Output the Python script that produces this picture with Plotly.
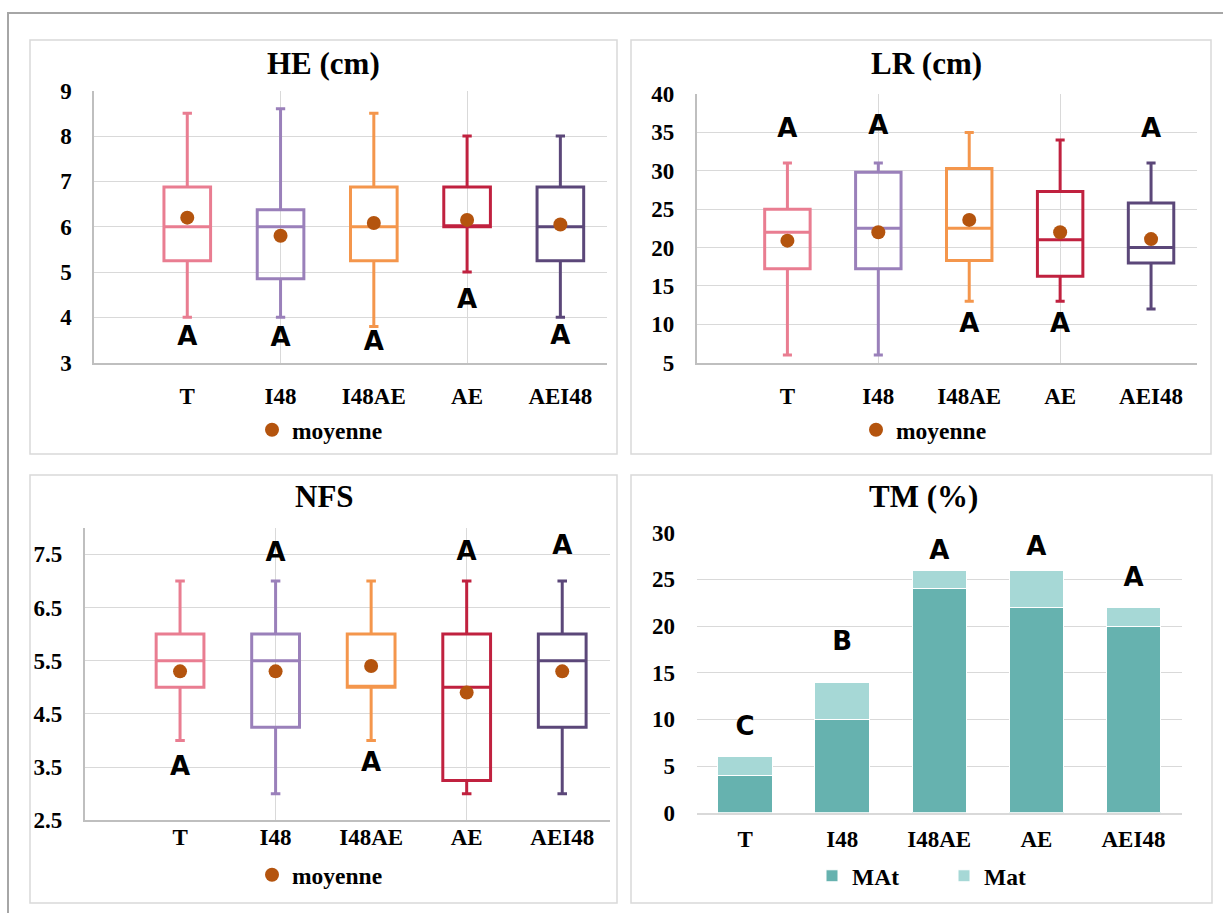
import plotly.graph_objects as go

# ---------------- data ----------------
categories = ["T", "I48", "I48AE", "AE", "AEI48"]
box_colors = ["#E97D91", "#9A80BA", "#F4964C", "#C0213F", "#5B4779"]
mean_color = "#B4540E"

he_min = [4.0, 4.0, 3.8, 5.0, 4.0]
he_q1 = [5.25, 4.85, 5.25, 6.0, 5.25]
he_med = [6.0, 6.0, 6.0, 6.0, 6.0]
he_q3 = [6.875, 6.375, 6.875, 6.875, 6.875]
he_max = [8.5, 8.6, 8.5, 8.0, 8.0]
he_mean = [6.2, 5.8, 6.08, 6.15, 6.05]
he_letters = ["A", "A", "A", "A", "A"]
he_letter_y = [3.54, 3.51, 3.43, 4.36, 3.56]

lr_min = [6, 6, 13, 13, 12]
lr_q1 = [17.25, 17.25, 18.3, 16.25, 18.0]
lr_med = [22.0, 22.5, 22.5, 21.0, 20.0]
lr_q3 = [25.0, 29.8, 30.3, 27.3, 25.8]
lr_max = [31, 31, 35, 34, 31]
lr_mean = [20.9, 22.0, 23.6, 22.0, 21.1]
lr_letters = ["A", "A", "A", "A", "A"]
lr_letter_y = [35.2, 35.7, 9.9, 9.9, 35.3]

nfs_min = [4, 3, 4, 3, 3]
nfs_q1 = [5.0, 4.25, 5.0, 3.25, 4.25]
nfs_med = [5.5, 5.5, 5.0, 5.0, 5.5]
nfs_q3 = [6.0, 6.0, 6.0, 6.0, 6.0]
nfs_max = [7, 7, 7, 7, 7]
nfs_mean = [5.3, 5.3, 5.4, 4.9, 5.3]
nfs_letters = ["A", "A", "A", "A", "A"]
nfs_letter_y = [3.475, 7.49, 3.54, 7.52, 7.63]

tm_MAt = [4, 10, 24, 22, 20]
tm_Mat = [2, 4, 2, 4, 2]
tm_letters = ["C", "B", "A", "A", "A"]
tm_letter_y = [9.0, 18.1, 27.9, 28.3, 25.0]

titles = ["HE (cm)", "LR (cm)", "NFS", "TM (%)"]

# ---------------- layout helpers ----------------
W, H = 1223, 913
def px(x):
    return x / W
def py(y):
    return 1 - y / H

SERIF = "Liberation Serif"
SANS = "DejaVu Sans"
GRID = "#d9d9d9"
AXL = "#bfbfbf"
tickfont = dict(family=SERIF, size=23, color="black", weight="bold")
letterfont = dict(family=SANS, size=26, color="black", weight="bold")

xpos = list(range(1, len(categories) + 1))

fig = go.Figure()

panels = [
    ("x", "y", "x5", "legend", he_min, he_q1, he_med, he_q3, he_max, he_mean, he_letters, he_letter_y),
    ("x2", "y2", "x6", "legend2", lr_min, lr_q1, lr_med, lr_q3, lr_max, lr_mean, lr_letters, lr_letter_y),
    ("x3", "y3", "x7", "legend3", nfs_min, nfs_q1, nfs_med, nfs_q3, nfs_max, nfs_mean, nfs_letters, nfs_letter_y),
]

for (xa, ya, xo, lg, mn, q1, med, q3, mx, mean, letters, ly) in panels:
    for i in range(len(categories)):
        fig.add_trace(go.Box(
            x=[xpos[i]], q1=[q1[i]], median=[med[i]], q3=[q3[i]],
            lowerfence=[mn[i]], upperfence=[mx[i]],
            width=0.5, whiskerwidth=0.2,
            line=dict(color=box_colors[i], width=3),
            fillcolor="rgba(0,0,0,0)",
            xaxis=xa, yaxis=ya, showlegend=False, hoverinfo="skip",
        ))
    fig.add_trace(go.Scatter(
        x=xpos, y=ly, text=letters, mode="text", textfont=letterfont,
        xaxis=xa, yaxis=ya, showlegend=False, hoverinfo="skip",
    ))
    fig.add_trace(go.Scatter(
        x=xpos, y=mean, mode="markers", name="moyenne",
        marker=dict(color=mean_color, size=14, line=dict(width=0)),
        xaxis=xo, yaxis=ya, legend=lg,
    ))

# stacked bars
fig.add_trace(go.Bar(x=categories, y=tm_MAt, name="MAt", marker=dict(color="#66B2AF", line=dict(color="white", width=1)),
                     xaxis="x4", yaxis="y4", legend="legend4"))
fig.add_trace(go.Bar(x=categories, y=tm_Mat, name="Mat", marker=dict(color="#A6D8D6", line=dict(color="white", width=1)),
                     xaxis="x4", yaxis="y4", legend="legend4"))
fig.add_trace(go.Scatter(x=categories, y=tm_letter_y, text=tm_letters, mode="text", textfont=letterfont,
                         xaxis="x4", yaxis="y4", showlegend=False, hoverinfo="skip"))

# ---------------- axes ----------------
def main_x(dom):
    return dict(domain=[px(dom[0]), px(dom[1])], range=[0, 5.5], tickmode="array", tickvals=[2, 4],
                showticklabels=False, ticks="", showgrid=True, gridcolor=GRID, gridwidth=1.3,
                showline=True, linecolor=AXL, linewidth=1.5, zeroline=False, fixedrange=True)

def label_x(over, axis_y_px, tlen):
    return dict(overlaying=over, anchor="free", position=py(axis_y_px), range=[0, 5.5],
                tickmode="array", tickvals=xpos,
                ticktext=categories, tickfont=tickfont, showgrid=False, showline=False, zeroline=False,
                ticks="outside", ticklen=tlen, tickcolor="rgba(0,0,0,0)")

def main_y(dom, rng, tick0, dtick, showline=True):
    return dict(domain=[py(dom[1]), py(dom[0])], range=rng, tick0=tick0, dtick=dtick, tickmode="linear",
                tickfont=tickfont, showgrid=True, gridcolor=GRID, gridwidth=1.3,
                showline=showline, linecolor=AXL, linewidth=1.5, zeroline=False,
                ticks="outside", ticklen=16, tickcolor="rgba(0,0,0,0)")

fig.update_layout(
    xaxis=dict(main_x((94, 607)), anchor="y"),
    yaxis=dict(main_y((90.7, 362.7), [3, 9], 3, 1), anchor="x"),
    xaxis2=dict(main_x((696.5, 1196.5)), anchor="y2"),
    yaxis2=dict(main_y((94, 362.7), [5, 40], 5, 5), anchor="x2"),
    xaxis3=dict(main_x((84.5, 610)), anchor="y3"),
    yaxis3=dict(main_y((527.7, 820.3), [2.5, 8], 2.5, 1), anchor="x3"),
    xaxis4=dict(domain=[px(696.5), px(1182)], anchor="y4", type="category", tickfont=tickfont,
                showgrid=False, showline=True, linecolor=GRID, linewidth=2, zeroline=False,
                ticks="outside", ticklen=5, tickcolor="rgba(0,0,0,0)"),
    yaxis4=dict(main_y((532.7, 812.7), [0, 30], 0, 5, showline=False), anchor="x4"),
    xaxis5=label_x("x", 362.7, 13),
    xaxis6=label_x("x2", 362.7, 13),
    xaxis7=label_x("x3", 816.3, 0),
)

legend_common = dict(font=dict(family=SERIF, size=23.5, color="black", weight="bold"),
                     bgcolor="rgba(0,0,0,0)", borderwidth=0, xanchor="left", yanchor="middle",
                     itemwidth=30, traceorder="normal")
fig.update_layout(
    legend=dict(legend_common, x=px(252), y=py(430)),
    legend2=dict(legend_common, x=px(856), y=py(430)),
    legend3=dict(legend_common, x=px(252), y=py(875)),
    legend4=dict(legend_common, x=px(812), y=py(876), orientation="h", entrywidth=87),
)

# ---------------- frames & titles ----------------
shapes = [
    dict(type="rect", xref="paper", yref="paper", x0=px(8), x1=px(1240), y0=py(930), y1=py(13),
         line=dict(color="#a6a6a6", width=2)),
]
for (x0, y0, x1, y1) in [(30, 40, 617, 454), (631, 40, 1211, 454), (30, 475, 617, 903), (631, 475, 1212, 903)]:
    shapes.append(dict(type="rect", xref="paper", yref="paper", x0=px(x0), x1=px(x1), y0=py(y1), y1=py(y0),
                       line=dict(color=GRID, width=1.5)))

annotations = []
for t, (cx, cy) in zip(titles, [(323.5, 63), (926, 63), (324, 496), (923.5, 496)]):
    annotations.append(dict(text=t, x=px(cx), y=py(cy), xref="paper", yref="paper", showarrow=False,
                            xanchor="center", yanchor="middle",
                            font=dict(family=SERIF, size=31, color="black", weight="bold")))

fig.update_layout(
    width=W, height=H, autosize=False,
    margin=dict(l=0, r=0, t=0, b=0, autoexpand=False),
    paper_bgcolor="white", plot_bgcolor="white",
    boxmode="overlay", barmode="stack", bargap=0.44,
    shapes=shapes, annotations=annotations,
)

fig.write_html("out.html", config={"displayModeBar": False},
               post_script="document.body.style.margin='0';")
